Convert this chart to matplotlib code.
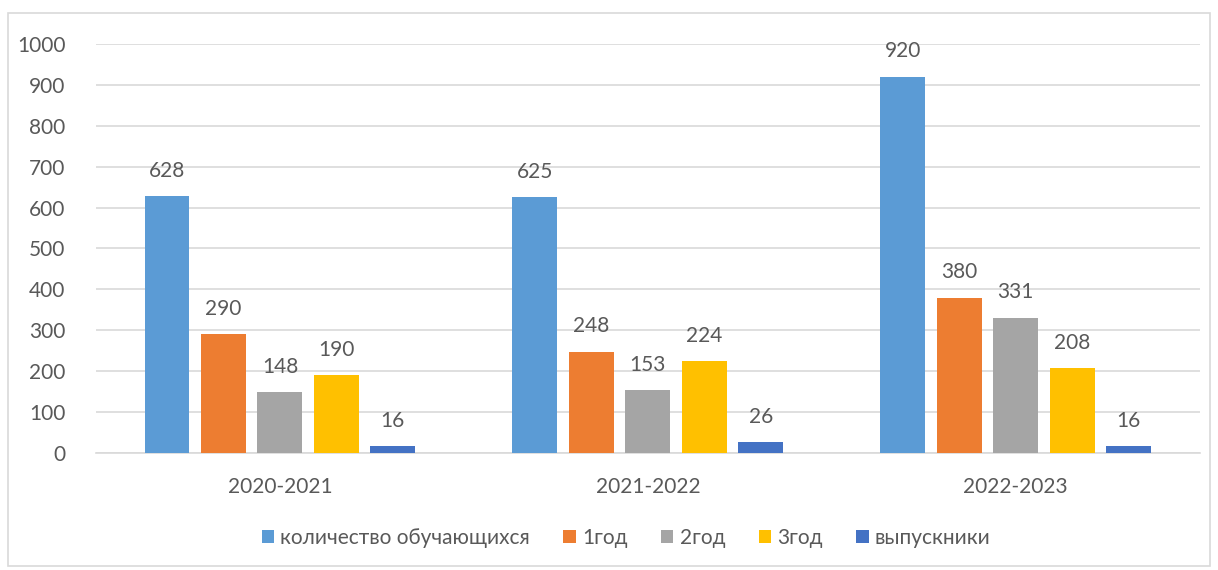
import numpy as np
import matplotlib
matplotlib.use('Agg')
import matplotlib.pyplot as plt
from matplotlib.patches import Rectangle

years = ['2020-2021', '2021-2022', '2022-2023']
series_names = ['количество обучающихся', '1год', '2год', '3год', 'выпускники']
total = [628, 625, 920]
year1 = [290, 248, 380]
year2 = [148, 153, 331]
year3 = [190, 224, 208]
graduates = [16, 26, 16]

colors = ['#5B9BD5', '#ED7D31', '#A5A5A5', '#FFC000', '#4472C4']
text_color = '#595959'

plt.rcParams['font.family'] = ['Lato', 'DejaVu Sans']

fig = plt.figure(figsize=(12.18, 5.70), dpi=100)
ax = fig.add_axes([0.0788, 0.2053, 0.9062, 0.7175])

# light frame around the chart like the spreadsheet export
fig.patches.append(Rectangle((8 / 1218, 1 - 566 / 570), 1202 / 1218, 553 / 570,
                             transform=fig.transFigure, fill=False,
                             edgecolor='#D9D9D9', lw=1.2))

x = np.arange(len(years))
pitch = 0.1535
width = 0.122
all_series = [total, year1, year2, year3, graduates]
for i, (vals, name, c) in enumerate(zip(all_series, series_names, colors)):
    pos = x + (i - 2) * pitch
    bars = ax.bar(pos, vals, width, color=c, label=name, zorder=3)
    for b, v in zip(bars, vals):
        ax.annotate(str(v), (b.get_x() + b.get_width() / 2, v),
                    xytext=(0, 11), textcoords='offset points',
                    ha='center', va='bottom', fontsize=15, color=text_color)

ax.set_xlim(-0.5, 2.5)
ax.set_ylim(0, 1000)
ax.set_yticks(range(0, 1001, 100))
ax.set_xticks(x)
ax.set_xticklabels(years)
ax.yaxis.grid(True, color='#D9D9D9', lw=1.2, zorder=0)
ax.tick_params(axis='both', length=0, labelsize=15, labelcolor=text_color)
ax.tick_params(axis='x', pad=17)
ax.tick_params(axis='y', pad=22)
for s in ['top', 'right', 'left']:
    ax.spines[s].set_visible(False)
ax.spines['bottom'].set_color('#D9D9D9')
ax.spines['bottom'].set_linewidth(1.2)

fig.legend(loc='center', bbox_to_anchor=(0.514, 1 - 538 / 570), ncol=5,
           frameon=False, fontsize=15, labelcolor=text_color,
           handlelength=0.6, handleheight=0.6, handletextpad=0.3,
           columnspacing=1.6)

fig.savefig('out.png', dpi=100)
